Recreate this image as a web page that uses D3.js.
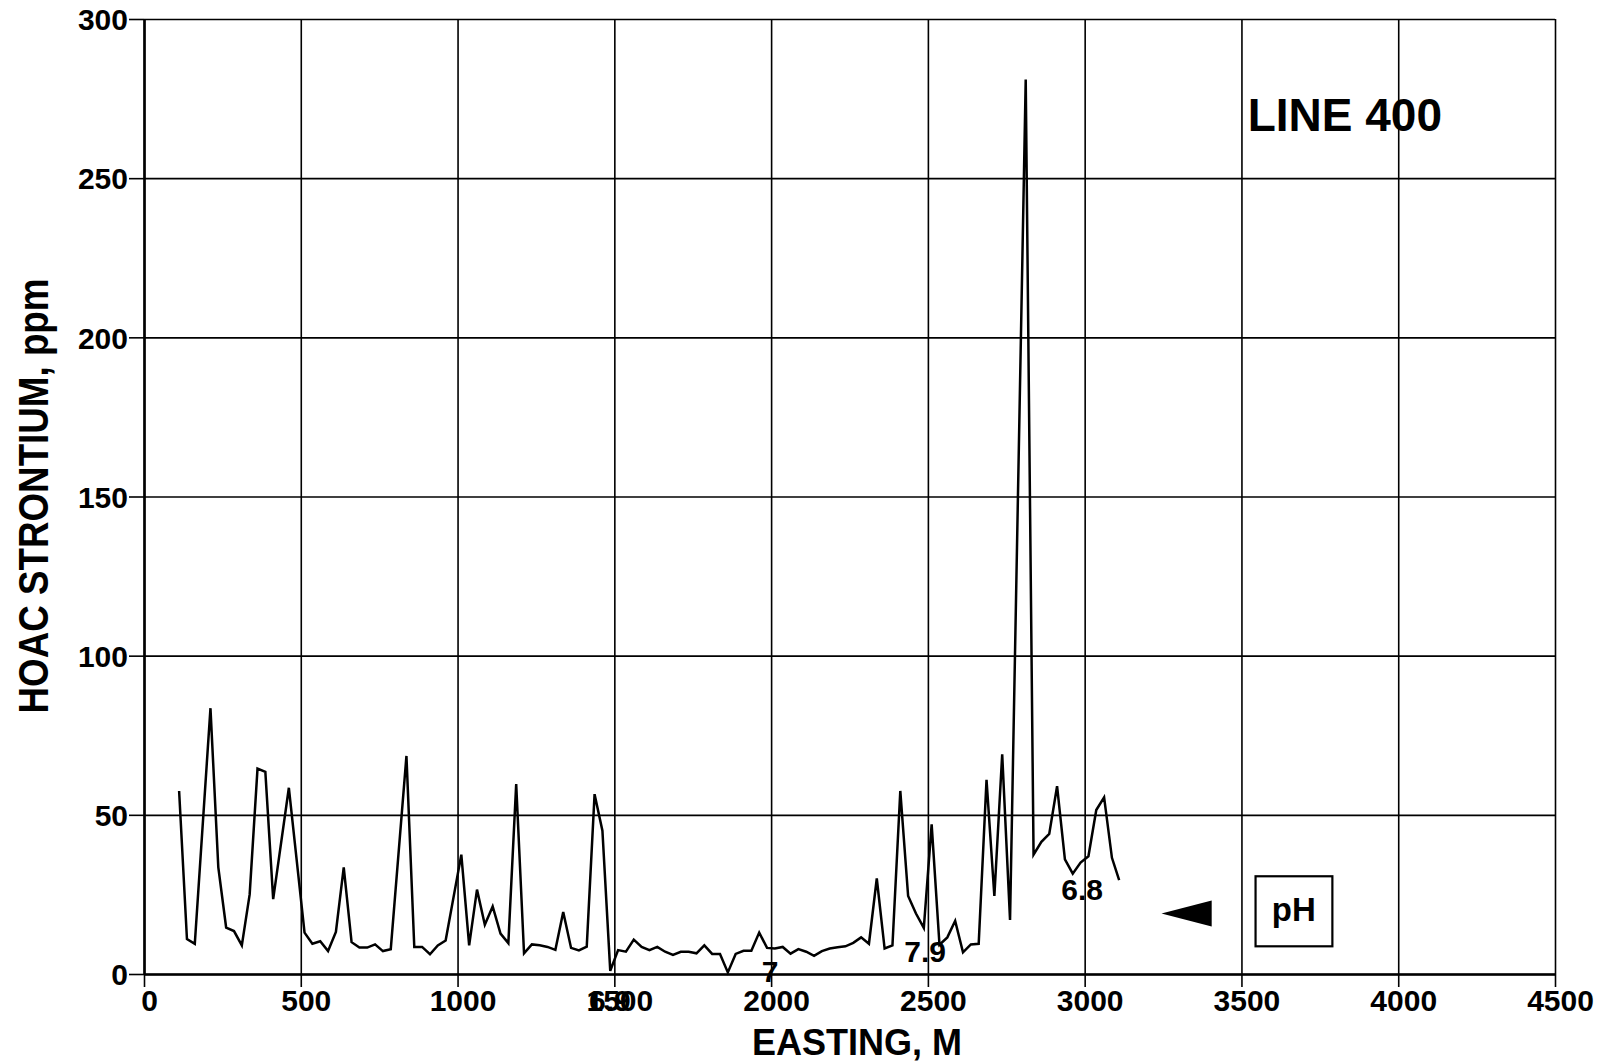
<!DOCTYPE html>
<html>
<head>
<meta charset="utf-8">
<script src="https://cdn.jsdelivr.net/npm/d3@7"></script>
<style>
  body { margin: 0; background: #fff; }
  svg { display: block; background: #fff; }
  text { font-family: "Liberation Sans", Arial, Helvetica, sans-serif; font-weight: bold; fill: #000; }
</style>
</head>
<body>
<div id="chart"></div>
<script>
// sample easting (m) along line 400
var easting = [
  112, 137, 162, 212, 237, 262, 287, 312, 337, 362, 387, 412, 462,
  512, 537, 562, 587, 612, 637, 662, 687, 712, 737, 762, 787, 837, 862, 887, 912, 937, 962,
  1012, 1037, 1062, 1087, 1112, 1137, 1162, 1187, 1212, 1237, 1262, 1287, 1312, 1337, 1362, 1387, 1412, 1437, 1462, 1487,
  1512, 1537, 1562, 1587, 1612, 1637, 1662, 1687, 1712, 1737, 1762, 1787, 1812, 1837, 1862, 1887, 1912, 1937, 1962, 1987,
  2012, 2037, 2062, 2087, 2112, 2137, 2162, 2187, 2212, 2237, 2262, 2287, 2312, 2337, 2362, 2387, 2412, 2437, 2462, 2487,
  2512, 2537, 2562, 2587, 2612, 2637, 2662, 2687, 2712, 2737, 2762, 2812, 2837, 2862, 2887, 2912, 2937, 2962, 2987,
  3012, 3037, 3062, 3087, 3110
];
// HOAC strontium (ppm) at each sample
var strontium = [
  57.5, 11, 9.5, 83.5, 33.5, 14.6, 13.5, 9, 25, 64.5, 63.5, 23.5, 58.5,
  13, 9.5, 10.3, 7.2, 13.2, 33.5, 10, 8.3, 8.3, 9.3, 7.2, 7.8, 68.5, 8.5, 8.5, 6.2, 9, 10.5,
  37.5, 9, 26.5, 15.5, 21.2, 12.7, 9.7, 59.7, 6.5, 9.3, 9, 8.5, 7.6, 19.5, 8.2, 7.4, 8.6, 56.5, 45, 1,
  7.5, 7, 10.8, 8.5, 7.5, 8.5, 7, 6, 7, 7, 6.5, 9, 6.3, 6.3, 0.5, 6.3, 7.3, 7.3, 13, 8.2,
  8, 8.5, 6.4, 7.8, 7, 5.7, 7.2, 8, 8.4, 8.7, 9.8, 11.5, 9.5, 30, 8, 9, 57.5, 24.5, 19, 14.5,
  47, 9.2, 11.5, 16.7, 6.8, 9.3, 9.5, 61, 24.5, 69, 17, 281, 37.5, 41.5, 44, 59, 36, 31.5, 35,
  37, 51.5, 55.5, 36.5, 29.5
];

var xTicks = [0, 500, 1000, 1500, 2000, 2500, 3000, 3500, 4000, 4500];
var yTicks = [0, 50, 100, 150, 200, 250, 300];

// pH readings written along the profile (easting, ppm level of the label)
var phEasting = [1486, 1997, 2491, 2992];
var phLevel = [-11.5, -2.6, 3.7, 23.2];
var phText = ["6.9", "7", "7.9", "6.8"];

var chartW = 1604, chartH = 1063;
var plotLeft = 144, plotRight = 1555, plotTop = 19, plotBottom = 974;

var svg = d3.select("#chart").append("svg")
  .attr("width", chartW)
  .attr("height", chartH);

var x = d3.scaleLinear().domain([0, 4500]).range([plotLeft, plotRight]);
var y = d3.scaleLinear().domain([0, 300]).range([plotBottom, plotTop]);

/* grid */
svg.append("g")
  .attr("transform", `translate(0, ${plotBottom})`)
  .call(d3.axisBottom(x).tickValues(xTicks).tickSize(-(plotBottom - plotTop)).tickFormat(""))
  .call(g => g.select(".domain").remove())
  .selectAll("line").attr("stroke", "#000").attr("stroke-width", 1.6);

svg.append("g")
  .attr("transform", `translate(${plotLeft}, 0)`)
  .call(d3.axisLeft(y).tickValues(yTicks).tickSize(-(plotRight - plotLeft)).tickFormat(""))
  .call(g => g.select(".domain").remove())
  .selectAll("line").attr("stroke", "#000").attr("stroke-width", 1.6);

/* axes */
var xAxis = svg.append("g")
  .attr("transform", `translate(0, ${plotBottom})`)
  .call(d3.axisBottom(x).tickValues(xTicks).tickFormat(d3.format("d")).tickSize(13).tickSizeOuter(0));
xAxis.select(".domain").attr("stroke-width", 2.6);
xAxis.selectAll("line").attr("stroke-width", 1.6);
xAxis.selectAll("text")
  .attr("y", 37).attr("dy", 0).attr("dx", 5)
  .style("font-size", "30px");

var yAxis = svg.append("g")
  .attr("transform", `translate(${plotLeft}, 0)`)
  .call(d3.axisLeft(y).tickValues(yTicks).tickFormat(d3.format("d")).tickSize(15).tickSizeOuter(0));
yAxis.select(".domain").attr("stroke-width", 2.6);
yAxis.selectAll("line").attr("stroke-width", 1.6);
yAxis.selectAll("text")
  .attr("x", -16).attr("dy", "0.36em")
  .style("font-size", "30px");

/* strontium profile */
var line = d3.line()
  .x((d, i) => x(easting[i]))
  .y(d => y(d));

svg.append("path")
  .datum(strontium)
  .attr("d", line)
  .attr("fill", "none")
  .attr("stroke", "#000")
  .attr("stroke-width", 2.5)
  .attr("stroke-linejoin", "miter");

/* pH labels */
svg.selectAll(".ph")
  .data(phText).enter()
  .append("text")
  .attr("class", "ph")
  .attr("x", (d, i) => x(phEasting[i]))
  .attr("y", (d, i) => y(phLevel[i]))
  .attr("text-anchor", "middle")
  .style("font-size", "30px")
  .text(d => d);

/* pH legend: arrow and box */
var tipX = x(3245), baseX = x(3405), midY = y(19), half = 13;
svg.append("path")
  .attr("d", `M${tipX},${midY}L${baseX},${midY - half}L${baseX},${midY + half}Z`)
  .attr("fill", "#000");

svg.append("rect")
  .attr("x", x(3545)).attr("y", y(30.7))
  .attr("width", x(3790) - x(3545))
  .attr("height", y(8.7) - y(30.7))
  .attr("fill", "#fff")
  .attr("stroke", "#000")
  .attr("stroke-width", 2.2);

svg.append("text")
  .attr("x", x(3667)).attr("y", y(16.5))
  .attr("text-anchor", "middle")
  .style("font-size", "33px")
  .text("pH");

/* title */
svg.append("text")
  .attr("x", x(3520)).attr("y", y(264.8))
  .style("font-size", "46px")
  .text("LINE 400");

/* axis titles */
svg.append("text")
  .attr("x", 857).attr("y", 1055)
  .attr("text-anchor", "middle")
  .style("font-size", "36px")
  .text("EASTING, M");

svg.append("text")
  .attr("transform", "translate(48, 496) rotate(-90)")
  .attr("text-anchor", "middle")
  .attr("textLength", 435)
  .attr("lengthAdjust", "spacingAndGlyphs")
  .style("font-family", "'Liberation Sans Narrow', 'Liberation Sans', Arial, sans-serif")
  .style("font-size", "42px")
  .text("HOAC STRONTIUM, ppm");
</script>
</body>
</html>
